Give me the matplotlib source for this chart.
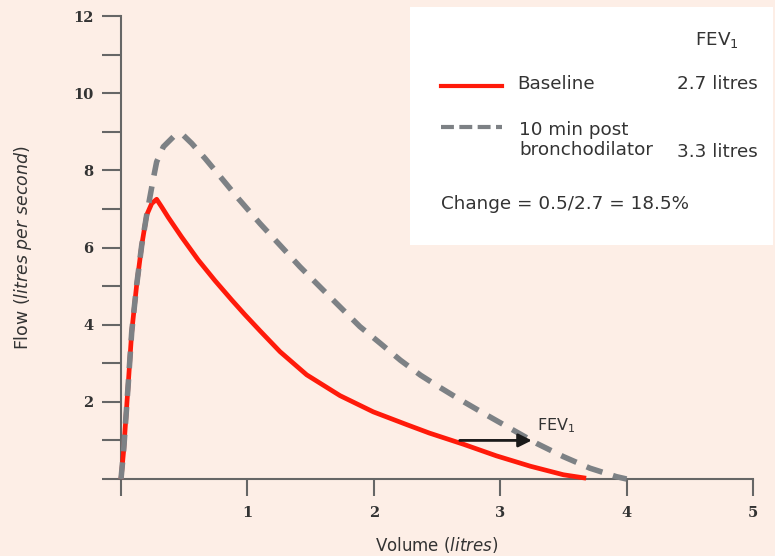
import matplotlib
matplotlib.use("Agg")
import matplotlib.pyplot as plt
from matplotlib.lines import Line2D
from matplotlib.patches import Rectangle

# ---- data ----
baseline_vol = [0.0, 0.02, 0.058, 0.085, 0.124, 0.164, 0.203, 0.243, 0.282, 0.322, 0.374,
                0.48, 0.61, 0.744, 0.876, 0.98, 1.10, 1.258, 1.469, 1.733, 1.996, 2.26,
                2.44, 2.71, 2.97, 3.24, 3.50, 3.68]
baseline_flow = [0.0, 0.7, 2.5, 3.82, 5.03, 6.06, 6.84, 7.14, 7.25, 7.05, 6.78,
                 6.27, 5.68, 5.14, 4.64, 4.26, 3.84, 3.30, 2.70, 2.16, 1.74, 1.41,
                 1.19, 0.90, 0.60, 0.33, 0.11, 0.02]

post_vol = [0.0, 0.02, 0.058, 0.085, 0.124, 0.164, 0.203, 0.229, 0.256, 0.282, 0.335,
            0.427, 0.493, 0.559, 0.665, 0.797, 0.928, 1.10, 1.258, 1.416, 1.574, 1.733,
            1.89, 2.05, 2.21, 2.37, 2.50, 2.66, 2.87, 3.08, 3.29, 3.50, 3.71, 3.92, 4.0]
post_flow = [0.0, 0.7, 2.5, 3.82, 5.03, 6.06, 6.84, 7.31, 7.79, 8.22, 8.61,
             8.91, 8.91, 8.70, 8.31, 7.79, 7.27, 6.62, 6.06, 5.50, 4.98, 4.46,
             3.95, 3.52, 3.08, 2.69, 2.42, 2.10, 1.70, 1.31, 0.92, 0.58, 0.28, 0.06, 0.0]

fev1_baseline = 2.7
fev1_post = 3.3
fev1_flow = 1.0

x_ticks = [0, 1, 2, 3, 4, 5]
x_ticklabels = ["", "1", "2", "3", "4", "5"]
y_major = [0, 2, 4, 6, 8, 10, 12]
y_major_labels = ["", "2", "4", "6", "8", "10", "12"]
y_minor = [1, 3, 5, 7, 9, 11]

legend_title = r"FEV$_1$"
legend_rows = [("Baseline", "2.7 litres"), ("10 min post\nbronchodilator", "3.3 litres")]
change_text = "Change = 0.5/2.7 = 18.5%"

# ---- style ----
BG = "#FDEEE6"
RED = "#FF1A0A"
GREY = "#7D8185"
AXC = "#666666"
TXT = "#333333"

plt.rcParams["font.family"] = ["DejaVu Sans"]
plt.rcParams["mathtext.fontset"] = "dejavusans"

W, H = 775, 556
fig = plt.figure(figsize=(W / 100, H / 100), dpi=100, facecolor=BG)


def fx(px):
    return px / W


def fy(py):
    return 1 - py / H


ax = fig.add_axes([fx(121), fy(479), (753 - 121) / W, (479 - 16) / H])
ax.set_facecolor(BG)
ax.set_xlim(0, 5)
ax.set_ylim(0, 12)
for s in ["top", "right"]:
    ax.spines[s].set_visible(False)
for s in ["left", "bottom"]:
    ax.spines[s].set_color(AXC)
    ax.spines[s].set_linewidth(1.5)

ax.set_xticks(x_ticks)
ax.set_xticklabels(x_ticklabels)
ax.set_yticks(y_major)
ax.set_yticklabels(y_major_labels)
ax.set_yticks(y_minor, minor=True)
ax.tick_params(axis="x", direction="out", length=12.5, width=1.5, color=AXC, pad=7,
               labelsize=10.5, labelcolor=TXT)
ax.tick_params(axis="y", which="both", direction="out", length=13.7, width=1.5, color=AXC,
               pad=6, labelsize=10.5, labelcolor=TXT)
for lab in ax.get_xticklabels() + ax.get_yticklabels():
    lab.set_fontfamily("DejaVu Serif")
    lab.set_fontweight("bold")

ax.plot(baseline_vol, baseline_flow, color=RED, lw=3.4, solid_capstyle="butt",
        solid_joinstyle="round", clip_on=False, zorder=3)
ax.plot(post_vol, post_flow, color=GREY, lw=4.0, linestyle=(0, (3.0, 2.0)),
        dash_capstyle="butt", dash_joinstyle="round", clip_on=False, zorder=4)

ax.annotate("", xy=(fev1_post - 0.05, fev1_flow), xytext=(fev1_baseline - 0.02, fev1_flow),
            arrowprops=dict(arrowstyle="-|>", lw=2.0, color="#1a1a1a", mutation_scale=20,
                            shrinkA=0, shrinkB=0), zorder=5)
ax.text(fev1_post - 0.01, fev1_flow + 0.37, r"FEV$_1$", fontsize=11.5, color=TXT,
        ha="left", va="center", zorder=6)

ax.set_xlabel(r"Volume $\mathit{(litres)}$", fontsize=12, color=TXT)
ax.set_ylabel(r"Flow $\mathit{(litres\ per\ second)}$", fontsize=12.5, color=TXT)
ax.xaxis.set_label_coords(0.5, (479 - 535) / 463)
ax.yaxis.set_label_coords((34 - 121) / 632, 0.5)

# ---- legend box ----
fig.add_artist(Rectangle((fx(410), fy(245)), (773 - 410) / W, (245 - 7) / H,
                         transform=fig.transFigure, facecolor="white", edgecolor="none",
                         zorder=10))
fs = 13.2
fig.text(fx(717), fy(40), legend_title, fontsize=fs, color=TXT, ha="center", va="center",
         zorder=11)
fig.add_artist(Line2D([fx(441), fx(502)], [fy(86), fy(86)], color=RED, lw=3,
                      transform=fig.transFigure, zorder=11))
fig.add_artist(Line2D([fx(441), fx(502)], [fy(127), fy(127)], color=GREY, lw=3,
                      linestyle=(0, (3.1, 1.3)), dash_capstyle="butt",
                      transform=fig.transFigure, zorder=11))
fig.text(fx(517), fy(84), legend_rows[0][0], fontsize=fs, color=TXT, ha="left", va="center",
         zorder=11)
fig.text(fx(677), fy(84), legend_rows[0][1], fontsize=fs, color=TXT, ha="left", va="center",
         zorder=11)
fig.text(fx(519), fy(140), legend_rows[1][0], fontsize=fs, color=TXT, ha="left", va="center",
         linespacing=1.2, zorder=11)
fig.text(fx(677), fy(152), legend_rows[1][1], fontsize=fs, color=TXT, ha="left", va="center",
         zorder=11)
fig.text(fx(441), fy(204), change_text, fontsize=fs, color=TXT, ha="left", va="center",
         zorder=11)

fig.savefig("out.png", dpi=100, facecolor=BG)
